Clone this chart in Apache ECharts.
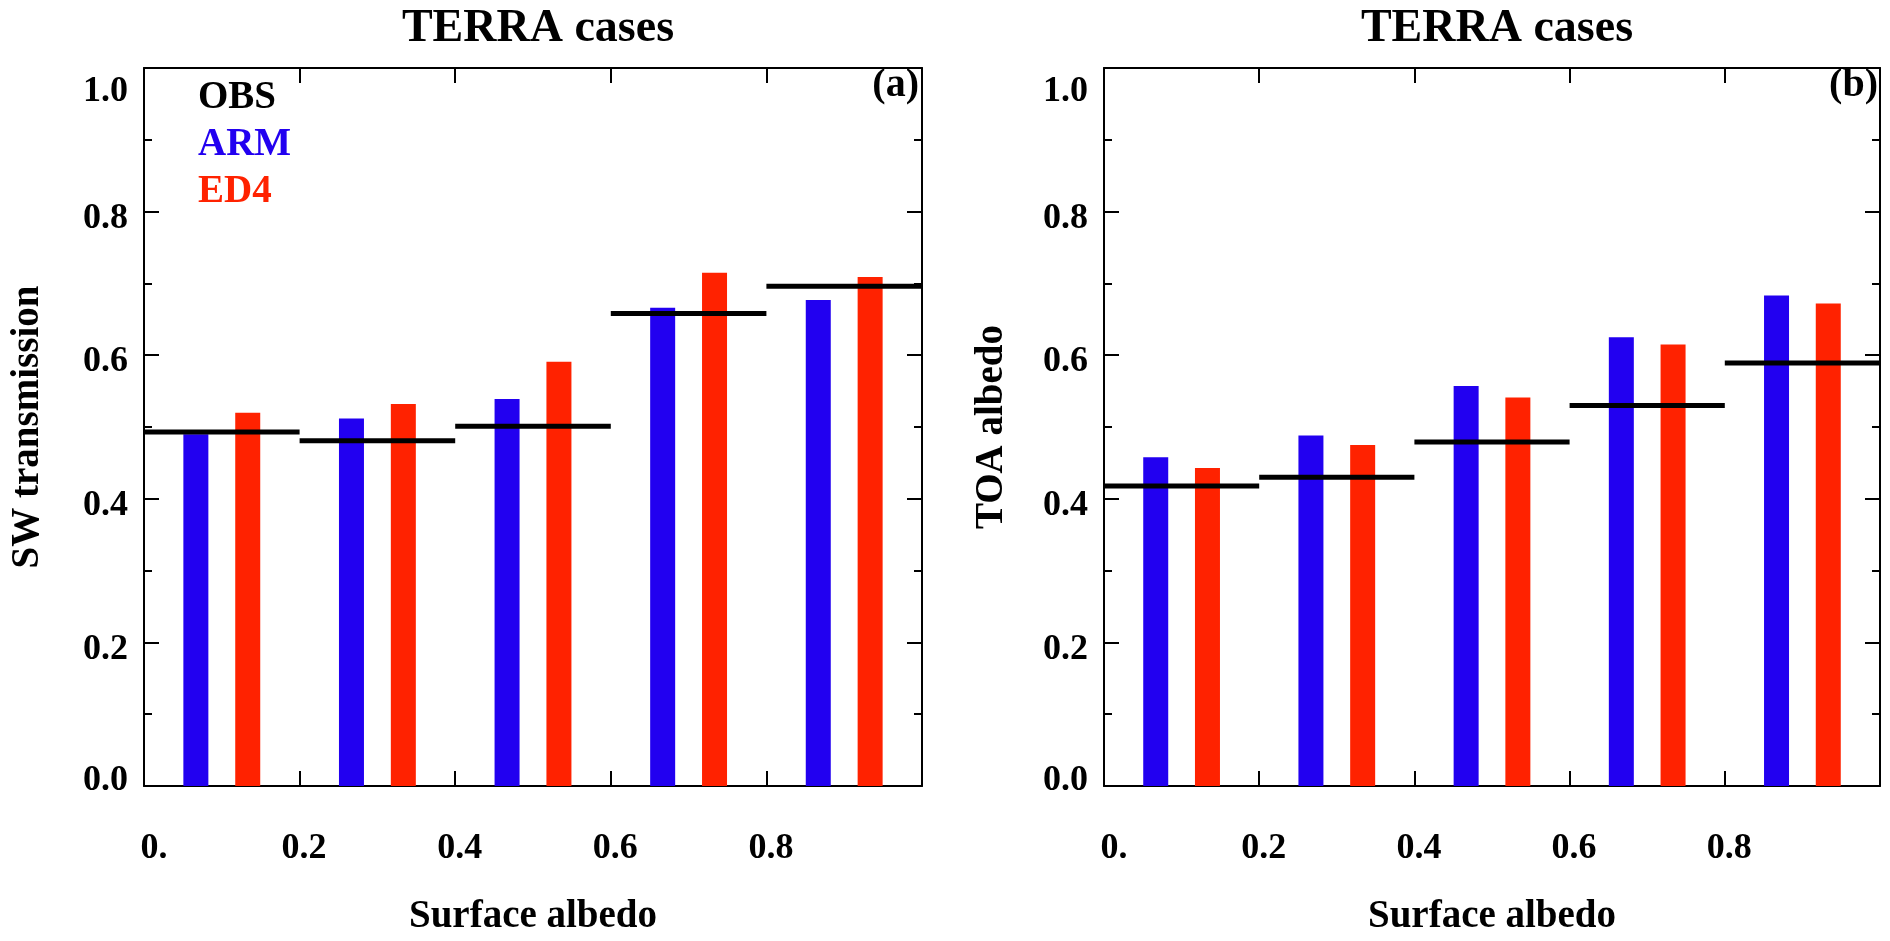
<!DOCTYPE html>
<html>
<head>
<meta charset="utf-8">
<script src="https://cdn.jsdelivr.net/npm/echarts@6/dist/echarts.min.js"></script>
<style>
  html, body { margin: 0; padding: 0; background: #fff; }
  #main { width: 1890px; height: 941px; }
</style>
</head>
<body>
<div id="main"></div>
<script>
// bins of surface albedo
const binLeft = [0.0, 0.2, 0.4, 0.6, 0.8];
const binWidth = 0.2;

// (a) SW transmission
const swObs = [0.493, 0.481, 0.501, 0.658, 0.696];
const swArm = [0.490, 0.512, 0.539, 0.666, 0.677];
const swEd4 = [0.520, 0.532, 0.591, 0.715, 0.709];

// (b) TOA albedo
const toaObs = [0.418, 0.430, 0.479, 0.530, 0.589];
const toaArm = [0.458, 0.488, 0.557, 0.625, 0.683];
const toaEd4 = [0.443, 0.475, 0.541, 0.615, 0.672];

const FONT = '"Liberation Serif", "Times New Roman", serif';
const BLUE = '#2200f0';
const RED = '#ff2200';

const chart = echarts.init(document.getElementById('main'));

function xLabel(v) {
  if (v === 0) return '{z|0.}';
  if (v > 0.99) return '';
  return '{n|' + v.toFixed(1) + '}';
}
function yLabel(v) {
  if (v === 0) return '{b|0.0}';
  if (v > 0.99) return '{t|1.0}';
  return '{n|' + v.toFixed(1) + '}';
}

const labelBase = { fontFamily: FONT, fontWeight: 'bold', fontSize: 36, color: '#000' };

function makeX(gridIndex, top) {
  return {
    gridIndex: gridIndex, type: 'value', min: 0, max: 1, interval: 0.2,
    position: top ? 'top' : 'bottom',
    name: top ? '' : 'Surface albedo',
    nameLocation: 'middle', nameGap: 111,
    nameTextStyle: { fontFamily: FONT, fontWeight: 'bold', fontSize: 39, color: '#000' },
    axisLine: { show: true, onZero: false, lineStyle: { color: '#000', width: 2 } },
    axisTick: { show: true, inside: true, length: 15, lineStyle: { color: '#000', width: 2 } },
    splitLine: { show: false },
    axisLabel: {
      show: !top, margin: 45, formatter: xLabel,
      rich: {
        z: Object.assign({ padding: [0, 0, 0, 20] }, labelBase),
        n: Object.assign({ padding: [0, 0, 0, 9] }, labelBase)
      }
    }
  };
}

function makeY(gridIndex, right, name, nameGap) {
  return {
    gridIndex: gridIndex, type: 'value', min: 0, max: 1, interval: 0.2,
    position: right ? 'right' : 'left',
    name: right ? '' : name,
    nameLocation: 'middle', nameGap: nameGap,
    nameTextStyle: { fontFamily: FONT, fontWeight: 'bold', fontSize: 39, color: '#000' },
    axisLine: { show: true, onZero: false, lineStyle: { color: '#000', width: 2 } },
    axisTick: { show: true, inside: true, length: 15, lineStyle: { color: '#000', width: 2 } },
    minorTick: { show: true, splitNumber: 2, length: 8, lineStyle: { color: '#000', width: 2 } },
    splitLine: { show: false },
    minorSplitLine: { show: false },
    axisLabel: {
      show: !right, margin: 16, formatter: yLabel,
      rich: {
        n: Object.assign({ padding: [14, 0, 0, 0] }, labelBase),
        t: Object.assign({ padding: [48, 0, 0, 0] }, labelBase),
        b: Object.assign({ padding: [0, 0, 10, 0] }, labelBase)
      }
    }
  };
}

function barData(vals, frac) {
  return vals.map((v, i) => [binLeft[i] + binWidth * frac, v]);
}
function obsData(vals) {
  return vals.map((v, i) => [binLeft[i], binLeft[i] + binWidth, v]);
}

function obsRender(params, api) {
  const p0 = api.coord([api.value(0), api.value(2)]);
  const p1 = api.coord([api.value(1), api.value(2)]);
  return {
    type: 'line',
    shape: { x1: p0[0], y1: p0[1], x2: p1[0], y2: p1[1] },
    style: { stroke: '#000', lineWidth: 5 }
  };
}

function panelSeries(k, arm, ed4, obs) {
  return [
    {
      name: 'ARM', type: 'bar', xAxisIndex: 2 * k, yAxisIndex: 2 * k,
      data: barData(arm, 1 / 3), barWidth: 25, barGap: '-100%',
      itemStyle: { color: BLUE }, z: 2
    },
    {
      name: 'ED4', type: 'bar', xAxisIndex: 2 * k, yAxisIndex: 2 * k,
      data: barData(ed4, 2 / 3), barWidth: 25, barGap: '-100%',
      itemStyle: { color: RED }, z: 2
    },
    {
      name: 'OBS', type: 'custom', xAxisIndex: 2 * k, yAxisIndex: 2 * k,
      data: obsData(obs), renderItem: obsRender,
      encode: { x: [0, 1], y: 2 }, itemStyle: { color: '#000' }, z: 3
    }
  ];
}

const option = {
  backgroundColor: '#fff',
  animation: false,
  title: [
    { text: 'TERRA cases', left: 533, top: 1, textAlign: 'center',
      textStyle: { fontFamily: FONT, fontWeight: 'bold', fontSize: 46, color: '#000' } },
    { text: 'TERRA cases', left: 1492, top: 1, textAlign: 'center',
      textStyle: { fontFamily: FONT, fontWeight: 'bold', fontSize: 46, color: '#000' } }
  ],
  legend: {
    left: 188, top: 73, orient: 'vertical',
    itemWidth: 0, itemHeight: 0, itemGap: 8, selectedMode: false,
    textStyle: { fontFamily: FONT, fontWeight: 'bold', fontSize: 39, lineHeight: 39 },
    data: [
      { name: 'OBS', textStyle: { color: '#000' } },
      { name: 'ARM', textStyle: { color: BLUE } },
      { name: 'ED4', textStyle: { color: RED } }
    ]
  },
  grid: [
    { left: 144, right: 968, top: 68, bottom: 142 },
    { left: 1104, right: 10, top: 68, bottom: 142 }
  ],
  xAxis: [makeX(0, false), makeX(0, true), makeX(1, false), makeX(1, true)],
  yAxis: [
    makeY(0, false, 'SW transmission', 97), makeY(0, true, '', 0),
    makeY(1, false, 'TOA albedo', 93), makeY(1, true, '', 0)
  ],
  graphic: [
    { type: 'text', x: 919, y: 86,
      style: { text: '(a)', align: 'right', verticalAlign: 'middle', font: 'bold 40px ' + FONT, fill: '#000' } },
    { type: 'text', x: 1878, y: 86,
      style: { text: '(b)', align: 'right', verticalAlign: 'middle', font: 'bold 40px ' + FONT, fill: '#000' } }
  ],
  series: [].concat(
    panelSeries(0, swArm, swEd4, swObs),
    panelSeries(1, toaArm, toaEd4, toaObs)
  )
};

chart.setOption(option);
</script>
</body>
</html>
